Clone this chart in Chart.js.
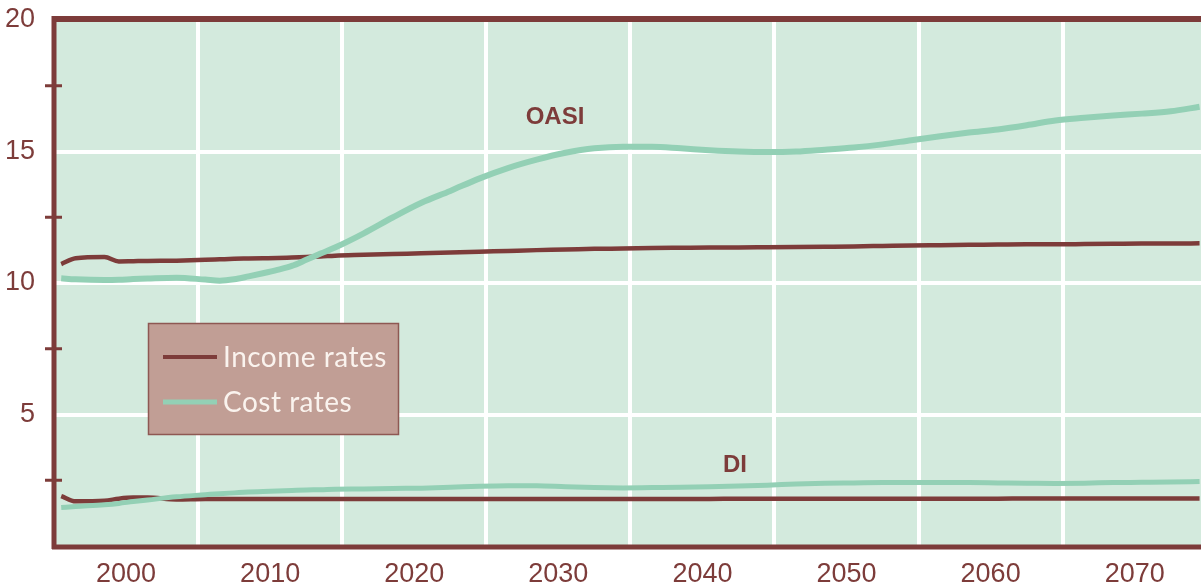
<!DOCTYPE html>
<html>
<head>
<meta charset="utf-8">
<script src="https://cdn.jsdelivr.net/npm/chart.js@4.4.0/dist/chart.umd.min.js"></script>
<style>
body { margin: 0; background: #fff; }
</style>
</head>
<body>
<canvas id="ratesChart" width="1201" height="586"></canvas>
<script>
const years = [1995, 1996, 1998, 1999, 2000, 2001, 2003, 2005, 2006, 2007, 2008, 2009, 2010, 2011, 2012, 2013, 2014,
    2016, 2018, 2020, 2022, 2024, 2026, 2028, 2030, 2032, 2034, 2036, 2038, 2040, 2042, 2044, 2046, 2048,
    2050, 2052, 2054, 2056, 2058, 2060, 2062, 2064, 2066, 2068, 2070, 2072, 2074];

const oasiIncome = [10.72, 10.94, 10.99, 10.82, 10.83, 10.84, 10.85, 10.88, 10.90, 10.92, 10.93, 10.94, 10.95, 10.97, 10.99, 11.01, 11.04,
    11.07, 11.10, 11.13, 11.16, 11.19, 11.22, 11.25, 11.27, 11.30, 11.31, 11.33, 11.34, 11.35, 11.35, 11.36, 11.37, 11.38,
    11.39, 11.41, 11.43, 11.44, 11.45, 11.46, 11.47, 11.47, 11.48, 11.49, 11.50, 11.50, 11.51];

const oasiCost = [10.18, 10.14, 10.11, 10.12, 10.15, 10.17, 10.20, 10.13, 10.09, 10.14, 10.25, 10.37, 10.50, 10.65, 10.88, 11.12, 11.35,
    11.89, 12.49, 13.05, 13.50, 13.97, 14.37, 14.69, 14.95, 15.12, 15.18, 15.18, 15.12, 15.05, 15.00, 14.98, 15.00, 15.07,
    15.15, 15.27, 15.43, 15.58, 15.72, 15.84, 16.00, 16.18, 16.28, 16.37, 16.44, 16.53, 16.70];

const diIncome = [1.90, 1.70, 1.72, 1.80, 1.84, 1.84, 1.77, 1.79, 1.79, 1.79, 1.79, 1.79, 1.79, 1.79, 1.79, 1.79, 1.79,
    1.79, 1.79, 1.79, 1.79, 1.79, 1.79, 1.79, 1.79, 1.79, 1.79, 1.79, 1.79, 1.79, 1.80, 1.80, 1.80, 1.80,
    1.80, 1.80, 1.80, 1.80, 1.80, 1.80, 1.81, 1.81, 1.81, 1.81, 1.81, 1.81, 1.81];

const diCost = [1.46, 1.50, 1.57, 1.62, 1.69, 1.75, 1.87, 1.95, 1.99, 2.02, 2.05, 2.07, 2.09, 2.11, 2.13, 2.14, 2.16,
    2.17, 2.19, 2.20, 2.23, 2.27, 2.29, 2.29, 2.25, 2.22, 2.21, 2.22, 2.23, 2.25, 2.28, 2.31, 2.36, 2.39,
    2.40, 2.41, 2.41, 2.41, 2.41, 2.40, 2.39, 2.38, 2.39, 2.41, 2.42, 2.43, 2.45];

const xLabelTicks = [2000, 2010, 2020, 2030, 2040, 2050, 2060, 2070];
const xGridLines = [2005, 2015, 2025, 2035, 2045, 2055, 2065];
const yLabelTicks = [5, 10, 15, 20];
const yMinorTicks = [2.5, 7.5, 12.5, 17.5];
const legendLabels = ['Income rates', 'Cost rates'];
const seriesLabels = ['OASI', 'DI'];

const maroon = '#7d3c3a';
const green = '#93d0b5';
const plotBg = '#d3eadd';

// values are mid-year figures
function toPoints(values) {
    return years.map((yr, i) => ({x: yr + 0.5, y: values[i]}));
}

function noScalePadding(s) {
    s.paddingTop = 0;
    s.paddingBottom = 0;
    s.paddingLeft = 0;
    s.paddingRight = 0;
}

const framePlugin = {
    id: 'frame',
    beforeDraw(chart) {
        const {ctx, chartArea: a} = chart;
        ctx.save();
        ctx.fillStyle = plotBg;
        ctx.fillRect(a.left, a.top, a.right - a.left, a.bottom - a.top);
        ctx.restore();
    },
    afterDraw(chart) {
        const {ctx, chartArea: a, scales} = chart;
        ctx.save();
        ctx.strokeStyle = maroon;
        ctx.lineCap = 'butt';

        // top border
        ctx.lineWidth = 6;
        ctx.beginPath();
        ctx.moveTo(a.left - 2, a.top - 1);
        ctx.lineTo(a.right, a.top - 1);
        ctx.stroke();

        // left and bottom axis lines
        ctx.lineWidth = 5;
        ctx.beginPath();
        ctx.moveTo(a.left, a.top - 4);
        ctx.lineTo(a.left, a.bottom + 3);
        ctx.moveTo(a.left - 2, a.bottom + 1);
        ctx.lineTo(a.right, a.bottom + 1);
        ctx.stroke();

        // minor ticks across the y axis
        ctx.lineWidth = 3;
        yMinorTicks.forEach(v => {
            const y = scales.y.getPixelForValue(v);
            ctx.beginPath();
            ctx.moveTo(a.left - 9, y);
            ctx.lineTo(a.left + 8, y);
            ctx.stroke();
        });

        // series labels
        ctx.fillStyle = maroon;
        ctx.font = 'bold 24px "Liberation Sans", Arial, sans-serif';
        ctx.textAlign = 'center';
        ctx.textBaseline = 'middle';
        ctx.fillText(seriesLabels[0], 555, 117);
        ctx.fillText(seriesLabels[1], 735, 465);

        // legend box
        ctx.fillStyle = '#c19e95';
        ctx.fillRect(148, 323, 251, 112);
        ctx.strokeStyle = '#8e5853';
        ctx.lineWidth = 1.5;
        ctx.strokeRect(148.5, 323.5, 250, 111);

        ctx.lineWidth = 4;
        ctx.strokeStyle = maroon;
        ctx.beginPath();
        ctx.moveTo(163, 357);
        ctx.lineTo(217, 357);
        ctx.stroke();
        ctx.lineWidth = 5;
        ctx.strokeStyle = green;
        ctx.beginPath();
        ctx.moveTo(163, 402);
        ctx.lineTo(217, 402);
        ctx.stroke();

        ctx.fillStyle = '#faf3ee';
        ctx.font = '400 28px Lato, "Open Sans", sans-serif';
        ctx.letterSpacing = '0.5px';
        ctx.textAlign = 'left';
        ctx.fillText(legendLabels[0], 223, 358);
        ctx.fillText(legendLabels[1], 223, 403);
        ctx.restore();
    }
};

const lineStyle = {
    pointRadius: 0,
    fill: false,
    cubicInterpolationMode: 'monotone',
    borderJoinStyle: 'round'
};

new Chart(document.getElementById('ratesChart'), {
    type: 'line',
    data: {
        datasets: [
            {...lineStyle, label: 'OASI cost', data: toPoints(oasiCost), borderColor: green, borderWidth: 6, order: 1},
            {...lineStyle, label: 'DI cost', data: toPoints(diCost), borderColor: green, borderWidth: 5, order: 1},
            {...lineStyle, label: 'OASI income', data: toPoints(oasiIncome), borderColor: maroon, borderWidth: 4.5, order: 2},
            {...lineStyle, label: 'DI income', data: toPoints(diIncome), borderColor: maroon, borderWidth: 4.5, order: 2}
        ]
    },
    options: {
        responsive: false,
        animation: false,
        devicePixelRatio: 1,
        layout: {padding: {top: 20, right: 0, left: 0, bottom: 0}},
        plugins: {legend: {display: false}, tooltip: {enabled: false}},
        scales: {
            x: {
                type: 'linear',
                min: 1995,
                max: 2074.6,
                afterFit: s => { s.height = 40; noScalePadding(s); },
                afterBuildTicks: s => {
                    s.ticks = xLabelTicks.concat(xGridLines).sort((a, b) => a - b).map(v => ({value: v}));
                },
                grid: {
                    color: c => (c.tick && xGridLines.includes(c.tick.value)) ? '#ffffff' : 'rgba(0,0,0,0)',
                    lineWidth: 4,
                    drawTicks: false
                },
                border: {display: false},
                ticks: {
                    autoSkip: false,
                    maxRotation: 0,
                    padding: 12,
                    color: maroon,
                    font: {family: '"Liberation Sans", Arial, sans-serif', size: 27},
                    callback: v => xLabelTicks.includes(v) ? String(v) : ''
                }
            },
            y: {
                min: 0,
                max: 20,
                afterFit: s => { s.width = 54; noScalePadding(s); },
                afterBuildTicks: s => {
                    s.ticks = yLabelTicks.map(v => ({value: v}));
                },
                grid: {
                    color: c => (c.tick && c.tick.value < 20) ? '#ffffff' : 'rgba(0,0,0,0)',
                    lineWidth: 4,
                    drawTicks: false
                },
                border: {display: false},
                ticks: {
                    padding: 19,
                    color: maroon,
                    font: {family: '"Liberation Sans", Arial, sans-serif', size: 27}
                }
            }
        }
    },
    plugins: [framePlugin]
});
</script>
</body>
</html>
